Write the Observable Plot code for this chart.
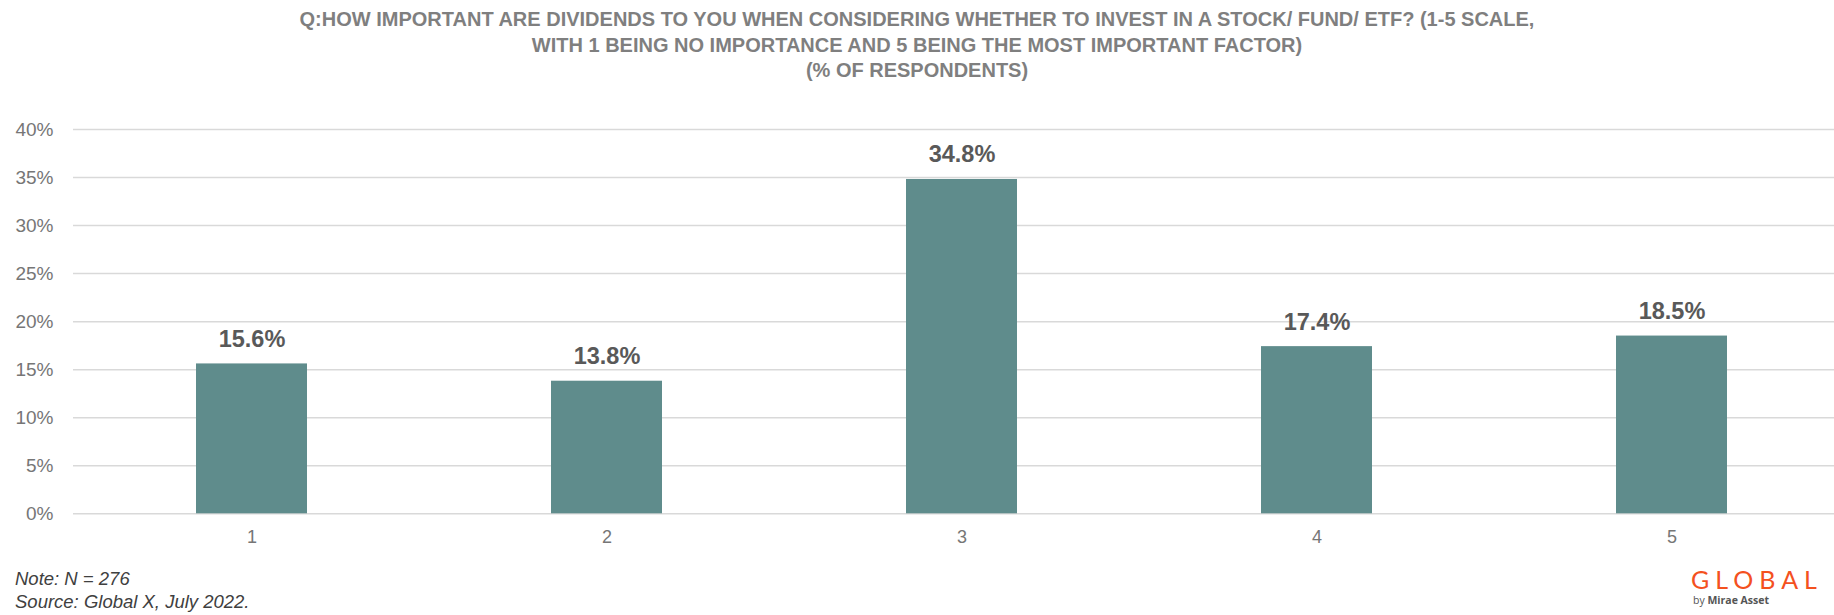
<!DOCTYPE html>
<html><head><meta charset="utf-8">
<script src="https://cdn.jsdelivr.net/npm/d3@7"></script>
<script src="https://cdn.jsdelivr.net/npm/@observablehq/plot@0.6"></script>
<style>
body{margin:0;width:1834px;height:615px;position:relative;overflow:hidden;background:#fff;font-family:"Liberation Sans",Arial,sans-serif;}
#title{position:absolute;left:0;top:7px;width:1834px;text-align:center;font-weight:bold;font-size:20px;line-height:25.5px;color:#7f7f7f;}
#chart{position:absolute;left:0;top:95px;}
#note{position:absolute;left:15px;top:567px;font-style:italic;font-size:18.5px;line-height:23px;color:#404040;}
#logo{position:absolute;left:1691px;top:565px;width:143px;}
#logo .g{font-family:Lato,"Liberation Sans",sans-serif;font-weight:400;font-size:25px;letter-spacing:6px;color:#f4511e;line-height:28px;}
#logo .m{font-family:"Open Sans","Liberation Sans",sans-serif;font-size:10.5px;color:#555;line-height:14px;margin-left:2px;}
</style></head>
<body>
<div id="title">Q:HOW IMPORTANT ARE DIVIDENDS TO YOU WHEN CONSIDERING WHETHER TO INVEST IN A STOCK/ FUND/ ETF? (1-5 SCALE,<br>WITH 1 BEING NO IMPORTANCE AND 5 BEING THE MOST IMPORTANT FACTOR)<br>(% OF RESPONDENTS)</div>
<div id="chart"></div>
<div id="note">Note: N = 276<br>Source: Global X, July 2022.</div>
<div id="logo"><div class="g">GLOBAL</div><div class="m">by <b>Mirae Asset</b></div></div>
<script>
const categories = ["1", "2", "3", "4", "5"];
const values = [15.6, 13.8, 34.8, 17.4, 18.5];
const yTicks = [0, 5, 10, 15, 20, 25, 30, 35, 40];

const data = categories.map((c, i) => ({cat: c, value: values[i]}));

const chart = Plot.plot({
  width: 1834,
  height: 460,
  marginLeft: 73,
  marginRight: 0,
  marginTop: 34,
  marginBottom: 41.7,
  style: {fontFamily: '"Liberation Sans", Arial, sans-serif', background: "white", overflow: "visible"},
  x: {domain: categories, range: [73.3, 1850], paddingInner: 0.686, paddingOuter: 0.343, label: null},
  y: {domain: [0, 40], label: null},
  marks: [
    Plot.ruleY(yTicks, {stroke: "#d9d9d9", strokeWidth: 1.5}),
    Plot.barY(data, {x: "cat", y: "value", fill: "#5f8c8c"}),
    Plot.text(data, {x: "cat", y: "value", text: d => d.value.toFixed(1) + "%", lineAnchor: "bottom", dy: -17, fontSize: 23.5, fontWeight: "bold", fill: "#595959"}),
    Plot.axisY({ticks: yTicks, tickSize: 0, tickPadding: 20, tickFormat: d => d + "%", fontSize: 19, color: "#767676", label: null}),
    Plot.axisX({tickSize: 0, tickPadding: 16, fontSize: 18, color: "#767676", label: null})
  ]
});
document.getElementById("chart").appendChild(chart);
</script>
</body></html>
